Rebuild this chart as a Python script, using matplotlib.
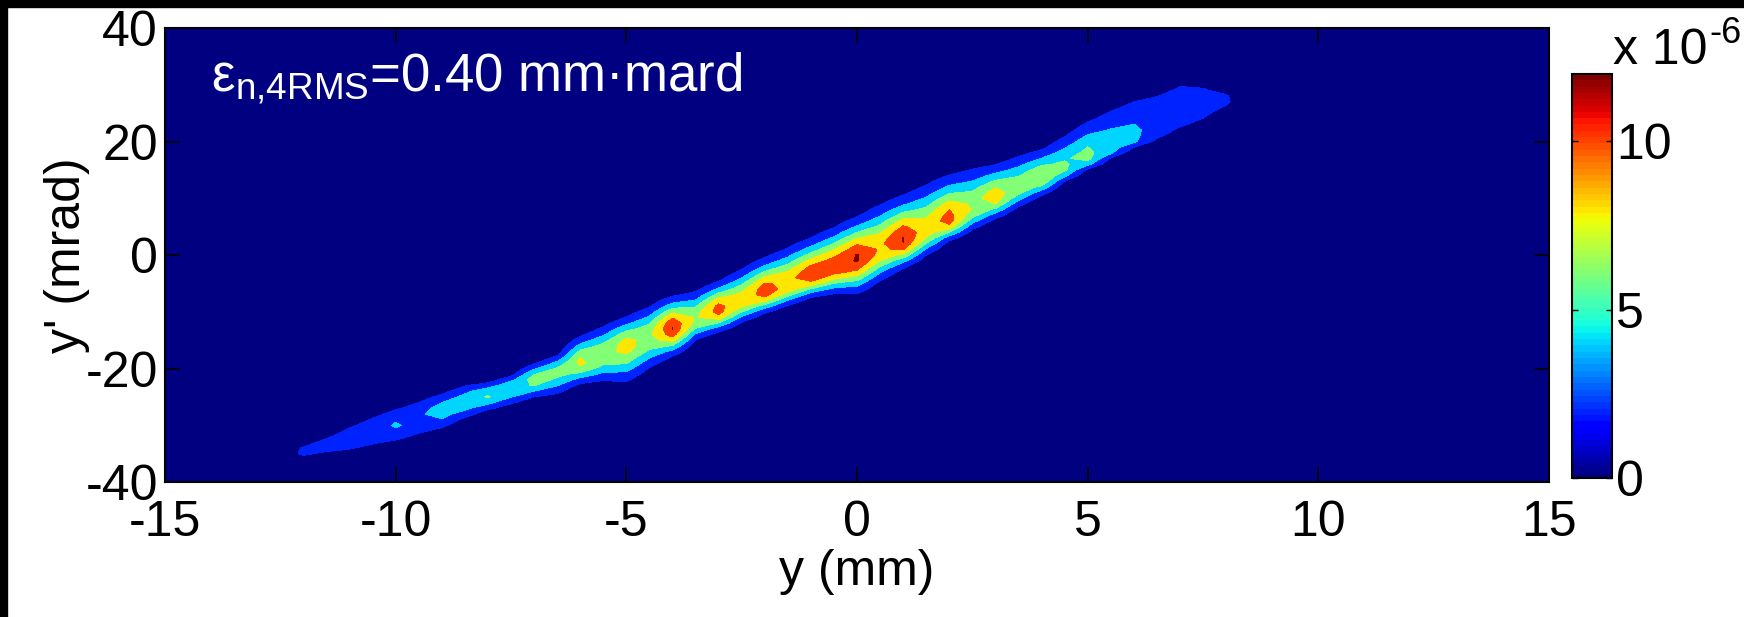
import numpy as np
import matplotlib
matplotlib.use('Agg')
import matplotlib.pyplot as plt
from matplotlib.colors import Normalize
from matplotlib.cm import ScalarMappable
from matplotlib.patches import Rectangle

plt.rcParams['font.family'] = ['Liberation Sans', 'DejaVu Sans']
plt.rcParams['mathtext.fontset'] = 'custom'
plt.rcParams['mathtext.rm'] = 'Liberation Sans'
plt.rcParams['mathtext.it'] = 'Liberation Sans:italic'
plt.rcParams['axes.unicode_minus'] = False

# slit positions (mm); for each: beamlet peak position in y' (mrad), peak density (x1e-6),
# and distance (mrad) from the peak to the lowest contour above / below it
slit_y = [-12.5, -12.0, -11.5, -11.0, -10.5, -10.0, -9.5, -9.0, -8.5, -8.0, -7.5,
          -7.0, -6.5, -6.0, -5.5, -5.0, -4.5, -4.0, -3.5, -3.0, -2.5, -2.0,
          -1.5, -1.0, -0.5, 0.0, 0.5, 1.0, 1.5, 2.0, 2.5, 3.0, 3.5,
          4.0, 4.5, 5.0, 5.5, 6.0, 6.5, 7.0, 7.5, 8.0, 8.5]
slit_centre = [-35.5, -34.6, -33.5, -32.4, -31.1, -30.0, -28.8, -27.4, -26.0, -24.7, -23.4,
               -22.0, -20.6, -19.0, -17.5, -15.9, -14.4, -12.9, -11.3, -9.7, -8.1, -6.5,
               -5.2, -3.7, -2.2, -0.6, 1.0, 2.5, 4.3, 6.1, 8.1, 10.1, 11.8,
               13.5, 15.2, 17.0, 18.7, 20.3, 22.5, 24.6, 26.4, 27.3, 27.8]
slit_peak = [1.0, 2.4, 2.8, 3.2, 3.5, 4.2, 3.9, 5.0, 5.3, 6.3, 5.8,
             7.0, 6.6, 8.5, 7.5, 8.8, 7.6, 12.1, 7.9, 11.0, 9.1, 11.2,
             9.9, 11.5, 11.3, 12.3, 9.8, 12.2, 9.0, 11.0, 7.9, 9.2, 7.2,
             8.1, 6.5, 6.8, 5.3, 4.6, 3.4, 3.0, 2.8, 2.3, 0.8]
edge_above = [0.5, 0.8, 1.2, 1.9, 2.3, 2.7, 2.8, 2.8, 2.9, 2.1, 2.0,
              2.8, 2.8, 4.6, 4.8, 5.0, 5.2, 5.6, 4.8, 5.0, 5.5, 6.0,
              6.4, 6.7, 7.0, 7.3, 7.8, 8.0, 8.0, 8.0, 7.0, 5.8, 5.5,
              5.0, 5.6, 6.4, 6.6, 6.7, 5.4, 5.1, 3.0, 1.0, 0.5]
edge_below = [0.5, 0.8, 1.2, 1.8, 2.2, 2.6, 2.6, 3.0, 2.6, 2.5, 2.8,
              3.0, 3.8, 3.6, 4.6, 6.4, 5.4, 4.9, 3.6, 3.8, 3.7, 3.7,
              3.7, 3.7, 4.6, 6.2, 5.5, 4.8, 4.3, 3.5, 3.5, 3.6, 3.2,
              2.9, 2.2, 1.8, 1.6, 1.3, 1.9, 2.0, 2.3, 1.0, 0.5]

levels = [0, 2, 4, 6, 8, 10, 12]
cbar_ticks = [0, 5, 10]
cmax = 12.0

# phase-space density on the measurement grid (one column per slit position)
yp = np.arange(-40, 40.001, 1.0)
gx = np.concatenate(([-15.0], slit_y, [15.0]))
Z = np.zeros((yp.size, gx.size))
for i, (c, p, up, lo) in enumerate(zip(slit_centre, slit_peak, edge_above, edge_below)):
    k = np.sqrt(2 * np.log(max(p, 2.05) / 2))
    s = np.where(yp >= c, up / k, lo / k)
    Z[:, i + 1] = p * np.exp(-0.5 * ((yp - c) / s) ** 2)
X, YP = np.meshgrid(gx, yp)

jet = plt.get_cmap('jet', 64)
band_colors = [jet(l / cmax) for l in levels]

fig = plt.figure(figsize=(17.44, 6.17), dpi=100)
ax = fig.add_axes([0.0946, 0.2188, 0.7936, 0.7358])
ax.contourf(X, YP, Z, levels=levels + [Z.max() + 1], colors=band_colors)

ax.set_xlim(-15, 15)
ax.set_ylim(-40, 40)
ax.set_xticks([-15, -10, -5, 0, 5, 10, 15])
ax.set_yticks([-40, -20, 0, 20, 40])
ax.tick_params(direction='in', top=True, right=True, length=11, width=1.2,
               labelsize=36)
ax.tick_params(axis='x', pad=13)
ax.tick_params(axis='y', pad=5)
for s in ax.spines.values():
    s.set_linewidth(1.5)
ax.set_xlabel('y (mm)', fontsize=36, labelpad=2)
ax.set_ylabel("y' (mrad)", fontsize=36, labelpad=-3)

ax.text(-14.0, 28.9, r'$\mathregular{\epsilon_{n{,}4RMS}}$=0.40 mm·mard',
        color='white', fontsize=38, va='baseline', ha='left')

cax = fig.add_axes([0.9014, 0.2253, 0.0229, 0.6548])
sm = ScalarMappable(norm=Normalize(0, cmax), cmap=jet)
cb = fig.colorbar(sm, cax=cax, ticks=cbar_ticks)
cb.outline.set_linewidth(1.5)
cax.tick_params(direction='in', left=True, right=True, length=4, width=1.0,
                labelsize=36, pad=3)

# colorbar multiplier, exponent written with a plain hyphen
mult = fig.text(0.925, 0.897, 'x 10', fontsize=36, ha='left', va='baseline')
fig.canvas.draw()
ax.annotate('-6', xy=(1.0, 0.5), xycoords=mult, xytext=(1, 0),
            textcoords='offset points', fontsize=26, ha='left', va='bottom',
            annotation_clip=False)

# dark frame along the top and left edges
fig.patches.append(Rectangle((0, 0), 7 / 1744, 1, transform=fig.transFigure,
                             color='black', zorder=10))
fig.patches.append(Rectangle((0, 1 - 7 / 617), 1, 7 / 617, transform=fig.transFigure,
                             color='black', zorder=10))

fig.savefig('out.png', dpi=100)
